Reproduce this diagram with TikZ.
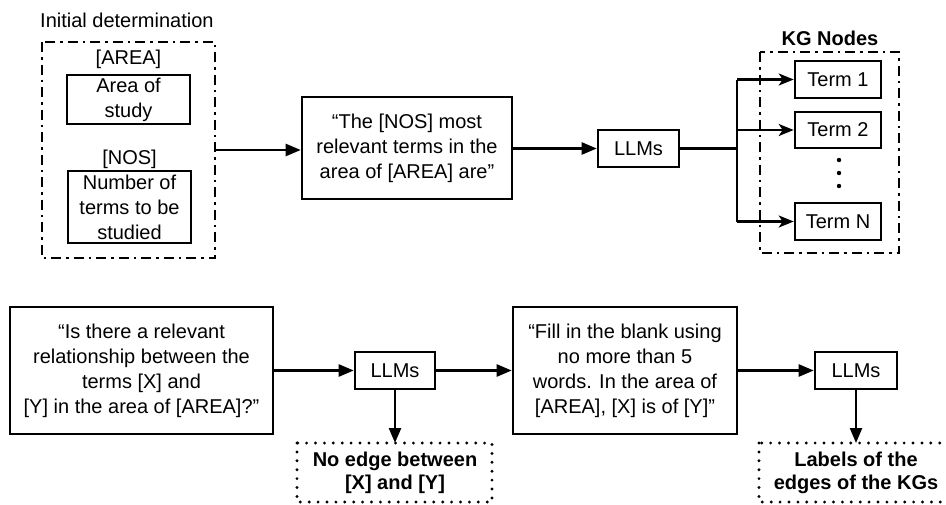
\documentclass[tikz,border=0pt]{standalone}
\usepackage{fontspec}
\setmainfont{Liberation Sans}
\usetikzlibrary{arrows.meta}
\begin{document}
\begin{tikzpicture}[x=1pt,y=-1pt,
  txt/.style={font=\fontsize{20}{25}\selectfont, align=center, inner sep=0pt},
  solidbox/.style={draw, line width=2.6pt, txt},
  dashdotbox/.style={draw, line width=2.6pt, dash pattern=on 10pt off 5pt on 2.5pt off 5pt},
  dotbox/.style={draw, line width=3.2pt, line cap=round, dash pattern=on 0pt off 8.9pt},
  arr/.style={line width=2.4pt, -{Triangle[length=15pt,width=12pt]}},
  karr/.style={line width=2.4pt, -{Stealth[length=15pt,width=12pt,inset=4pt]}},
  ln/.style={line width=2.4pt}
]
\useasboundingbox (0,0) rectangle (946,504);

% ---------- top row ----------
\node[txt, anchor=base west] (initlbl) at (40,27) {Initial determination};
\draw[dashdotbox] (42,42) rectangle (215,258);
\coordinate (initR) at (215,150);

\node[txt] (arealbl) at (128.5,59) {[AREA]};
\node[solidbox, minimum width=123pt, minimum height=49pt] (area) at (128.5,99.5) {Area of\\study};
\node[txt] (noslbl) at (129.5,159) {[NOS]};
\node[solidbox, minimum width=123pt, minimum height=72pt] (nos) at (129.5,207) {Number of\\terms to be\\studied};

\node[solidbox, minimum width=210pt, minimum height=102pt] (prompt1) at (407,148) {``The [NOS] most\\relevant terms in the\\area of [AREA] are''};
\node[solidbox, minimum width=81pt, minimum height=37pt] (llm1) at (638.5,148.5) {LLMs};

\draw[arr] (initR) -- (prompt1.west |- initR);
\draw[arr] (prompt1.east |- llm1) -- (llm1.west);

\node[txt, font=\fontsize{20}{25}\selectfont\bfseries] (kglbl) at (830,38) {KG Nodes};
\draw[dashdotbox] (760,52) rectangle (899,253);
\node[solidbox, minimum width=86pt, minimum height=37pt] (t1) at (838,79.5) {Term 1};
\node[solidbox, minimum width=86pt, minimum height=36pt] (t2) at (838,130) {Term 2};
\node[solidbox, minimum width=86pt, minimum height=37pt] (tn) at (838,221.5) {Term N};
\foreach \yy in {160,173,186} \fill (839,\yy) circle (2.2pt);

\coordinate (trunk) at (737,148.5);
\draw[ln] (llm1.east) -- (trunk);
\draw[ln] (trunk |- t1) -- (trunk |- tn);
\draw[karr] (trunk |- t1) -- (t1.west);
\draw[karr] (trunk |- t2) -- (t2.west);
\draw[karr] (trunk |- tn) -- (tn.west);

% ---------- bottom row ----------
\node[solidbox, minimum width=263pt, minimum height=127pt] (prompt2) at (141.5,370.5) {``Is there a relevant\\relationship between the\\terms [X] and\\{}[Y] in the area of [AREA]?''};
\node[solidbox, minimum width=80pt, minimum height=37pt] (llm2) at (395,370.5) {LLMs};
\node[solidbox, minimum width=224pt, minimum height=127pt] (prompt3) at (625,370.5) {``Fill in the blank using\\no more than 5\\words. In the area of\\{}[AREA], [X] is of [Y]''};
\node[solidbox, minimum width=82pt, minimum height=37pt] (llm3) at (856,370.5) {LLMs};

\draw[arr] (prompt2.east) -- (llm2.west);
\draw[arr] (llm2.east) -- (prompt3.west);
\draw[arr] (prompt3.east) -- (llm3.west);

\draw[dotbox] (297,443) rectangle (492,502);
\node[txt, font=\fontsize{20}{23}\selectfont\bfseries, anchor=north] (noedge) at (395,452) {No edge between\\{}[X] and [Y]};
\draw[dotbox] (759,443) rectangle (955,502);
\node[txt, font=\fontsize{20}{23}\selectfont\bfseries, anchor=north] (labels) at (856,452) {Labels of the\\edges of the KGs};

\coordinate (ne) at (395,443);
\coordinate (lb) at (856,443);
\draw[arr] (llm2.south) -- (ne);
\draw[arr] (llm3.south) -- (lb);
\end{tikzpicture}
\end{document}
